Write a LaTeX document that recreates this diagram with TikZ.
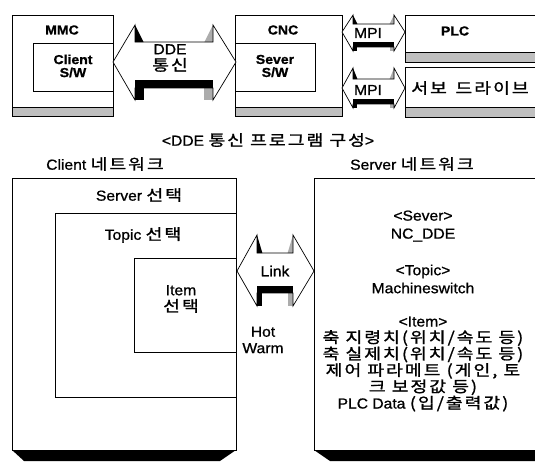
\documentclass[tikz,border=0pt]{standalone}
\usepackage{fontspec}
\setmainfont{Liberation Sans}[FakeStretch=1.08, FakeBold=1]
\newfontfamily\kr{Noto Sans CJK KR}[Scale=1.05, FakeStretch=1.2, LetterSpace=13, FakeBold=1.2]
\newcommand\fsn{\fontsize{14.5}{16.4}\selectfont}
\newcommand\fst{\fontsize{13}{13}\selectfont\bfseries}
\newcommand\blockarr[9]{%
  \pgfmathsetmacro\bandw{3+0.1*(#9-#8)}%
  \pgfmathsetmacro\stripw{0.07*(#4-#1)}%
  \fill[white] (#1,#5) -- (#2,#6) -- (#2,#8) -- (#3,#8) -- (#3,#6) -- (#4,#5) -- (#3,#7) -- (#3,#9) -- (#2,#9) -- (#2,#7) -- cycle;
  \fill[black] (#2,#9-\bandw) rectangle (#3,#9);
  \fill[black] (#2,#9) rectangle (#2+\stripw,#7);
  \fill[gray!65] (#3-\stripw,#9) rectangle (#3,#7);
  \fill[black] (#2,#6) -- (#2+\stripw,#8) -- (#2,#8) -- cycle;
  \fill[gray!65] (#3,#6) -- (#3-\stripw,#8) -- (#3,#8) -- cycle;
  \draw[arrline] (#1,#5) -- (#2,#6) -- (#2,#8) -- (#3,#8) -- (#3,#6) -- (#4,#5) -- (#3,#7) -- (#3,#9) -- (#2,#9) -- (#2,#7) -- cycle;
}
\tikzset{
  frame/.style={draw=black, line width=0.7pt, fill=white},
  band/.style={draw=black, line width=0.6pt, fill=gray!50},
  arrline/.style={draw=black, line width=0.7pt, line join=miter},
  lbl/.style={inner sep=0pt, font=\fsn, align=center},
  ttl/.style={inner sep=0pt, font=\fst, align=center},
  shadow/.style={fill=black},
}
\begin{document}
\begin{tikzpicture}[x=1pt,y=-1pt]
\useasboundingbox (0,0) rectangle (535,461);
% ---------- top: MMC ----------
\draw[frame] (12,15) rectangle (113,116);
\draw[band] (12,107) rectangle (113,116);
\draw[frame] (33,43) rectangle (113,91);
\node[ttl] (mmc) at (62,30) {MMC};
\node[ttl] (clientsw) at (73,66) {Client\\S/W};
% ---------- CNC ----------
\draw[frame] (235,15) rectangle (342,116);
\draw[band] (235,107) rectangle (342,116);
\draw[frame] (235,43) rectangle (315,91);
\node[ttl] (cnc) at (283,30) {CNC};
\node[ttl] (serversw) at (275,66) {Sever\\S/W};
% ---------- PLC / servo ----------
\draw[frame] (405,15) rectangle (538,62);
\draw[band] (405,52) rectangle (538,62);
\node[ttl] (plc) at (455,31) {PLC};
\draw[frame] (405,67) rectangle (538,117);
\draw[band] (405,107) rectangle (538,117);
\node[lbl] (servo) at (470,88) {\kr 서보\, 드라이브};
% ---------- block arrows ----------
\blockarr{113}{135}{213}{236}{62}{25}{100}{42}{88}
\node[lbl] (dde) at (170,58) {DDE\\{\kr 통신}};
\blockarr{342}{353}{394}{405}{32}{15}{51}{24}{47}
\node[lbl] (mpi1) at (368,33) {MPI};
\blockarr{342}{353}{394}{405}{88}{68}{108}{79}{104}
\node[lbl] (mpi2) at (368,90) {MPI};
% ---------- captions ----------
\node[lbl] (cap) at (268,140) {<DDE {\kr 통신 프로그램 구성}>};
\node[lbl] (cnet) at (105,164) {Client {\kr 네트워크}};
\node[lbl] (snet) at (412,164) {Server {\kr 네트워크}};
% ---------- client network ----------
\draw[frame] (12,178) rectangle (236,450);
\fill[shadow] (12,450) -- (236,450) -- (220,461) -- (24,461) -- cycle;
\draw[frame] (55,213) rectangle (236,397);
\draw[frame] (134,258) rectangle (236,352);
\node[lbl] (srvsel) at (139,195) {Server {\kr 선택}};
\node[lbl] (topsel) at (143,235) {Topic {\kr 선택}};
\node[lbl] (itemsel) at (181,299) {Item\\{\kr 선택}};
% ---------- link ----------
\blockarr{237}{257}{293}{314}{271}{235}{306}{253}{293}
\node[lbl] (link) at (275,271) {Link};
\node[lbl] (hw) at (263,340) {Hot\\Warm};
% ---------- server network ----------
\draw[frame] (314,178) rectangle (540,450);
\fill[shadow] (314,450) -- (540,450) -- (540,461) -- (330,461) -- cycle;
\node[lbl, font=\fontsize{14.5}{18}\selectfont] (sev) at (423,226) {<Sever>\\NC\_DDE};
\node[lbl, font=\fontsize{14.5}{18}\selectfont] (top) at (423,279) {<Topic>\\Machineswitch};
\node[lbl] (item) at (423,364) {<Item>\\{\kr 축 지령치(위치/속도 등)}\\{\kr 축 실제치(위치/속도 등)}\\{\kr 제어 파라메트 (게인, 토}\\{\kr 크 보정값 등)}\\PLC Data {\kr (입/출력값)}};
\end{tikzpicture}
\end{document}
